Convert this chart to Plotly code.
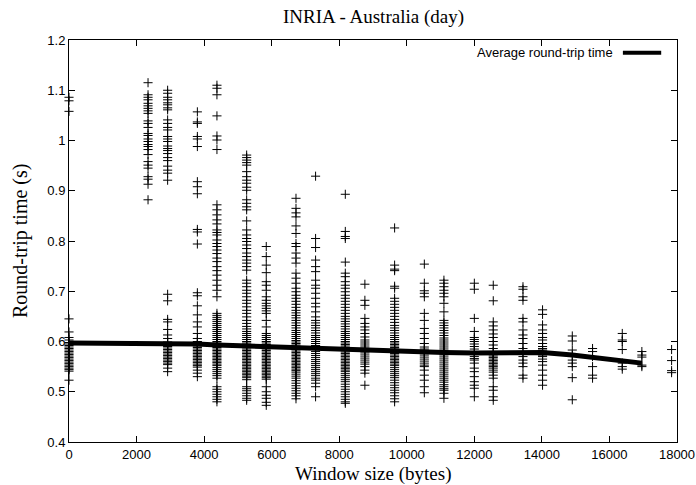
import plotly.graph_objects as go

# Window sizes (bytes) at which round-trip times were sampled
window_sizes = [0, 2340, 2920, 3800, 4380, 5260, 5840, 6720, 7300, 8180, 8760,
                9640, 10520, 11100, 12000, 12560, 13440, 14020, 14900, 15500,
                16380, 16960, 17840]

rtt_0 = [1.086, 1.079, 1.058, 0.645, 0.619, 0.608, 0.603, 0.598, 0.595, 0.592, 0.589,
         0.586, 0.583, 0.580, 0.577, 0.574, 0.571, 0.568, 0.565, 0.562, 0.559, 0.556,
         0.553, 0.550, 0.547, 0.544, 0.541, 0.523]
rtt_2340 = [1.115, 1.091, 1.086, 1.081, 1.074, 1.069, 1.064, 1.059, 1.054, 1.039, 1.034,
            1.026, 1.014, 1.010, 1.003, 0.998, 0.992, 0.988, 0.982, 0.972, 0.958, 0.951,
            0.945, 0.928, 0.923, 0.913, 0.882]
rtt_2920 = [1.100, 1.094, 1.086, 1.081, 1.075, 1.071, 1.065, 1.061, 1.041, 1.034, 1.026,
            1.021, 1.008, 1.003, 0.998, 0.989, 0.984, 0.980, 0.974, 0.966, 0.960, 0.949,
            0.941, 0.935, 0.921,
            0.694, 0.681, 0.644, 0.639, 0.624, 0.613, 0.606, 0.599, 0.596, 0.593, 0.590,
            0.587, 0.584, 0.581, 0.578, 0.575, 0.572, 0.569, 0.566, 0.563, 0.560, 0.557,
            0.554, 0.547, 0.540]
rtt_3800 = [1.057, 1.037, 1.034, 1.008, 1.003, 0.988, 0.918, 0.908, 0.894, 0.823, 0.818,
            0.794,
            0.697, 0.691, 0.671, 0.653, 0.639, 0.629, 0.616, 0.606, 0.600, 0.597, 0.594,
            0.591, 0.588, 0.585, 0.582, 0.579, 0.576, 0.573, 0.570, 0.567, 0.564, 0.561,
            0.558, 0.555, 0.552, 0.549, 0.543, 0.537, 0.530]
rtt_4380 = [1.110, 1.104, 1.091, 1.049, 1.009, 1.001, 0.982, 0.872, 0.862, 0.852, 0.842,
            0.834, 0.822, 0.817, 0.812, 0.802, 0.795, 0.789, 0.782, 0.775, 0.766, 0.759,
            0.749, 0.741, 0.732, 0.722, 0.712, 0.702, 0.689, 0.656, 0.652, 0.648, 0.644,
            0.640, 0.636, 0.632, 0.628, 0.624, 0.620, 0.616, 0.612, 0.608, 0.604, 0.600,
            0.597, 0.594, 0.591, 0.588, 0.585, 0.582, 0.579, 0.576, 0.573, 0.570, 0.567,
            0.564, 0.561, 0.558, 0.555, 0.552, 0.548, 0.544, 0.540, 0.536, 0.532, 0.527,
            0.510, 0.505, 0.500, 0.495, 0.490, 0.485, 0.480]
rtt_5260 = [0.971, 0.966, 0.961, 0.956, 0.951, 0.938, 0.928, 0.921, 0.915, 0.907, 0.901,
            0.882, 0.875, 0.868, 0.862, 0.840, 0.822, 0.812, 0.805, 0.799, 0.792, 0.785,
            0.776, 0.769, 0.762, 0.756, 0.749, 0.742, 0.722, 0.716, 0.709, 0.702, 0.696,
            0.689, 0.682, 0.676, 0.669, 0.662, 0.656, 0.649, 0.642, 0.636, 0.630, 0.625,
            0.620, 0.616, 0.612, 0.608, 0.604, 0.600, 0.597, 0.594, 0.591, 0.588, 0.585,
            0.582, 0.579, 0.576, 0.573, 0.570, 0.567, 0.564, 0.561, 0.558, 0.555, 0.552,
            0.549, 0.546, 0.543, 0.540, 0.537, 0.534, 0.531, 0.528, 0.524, 0.510, 0.506,
            0.502, 0.497, 0.492, 0.487, 0.483]
rtt_5840 = [0.789, 0.769, 0.752, 0.737, 0.719, 0.712, 0.702, 0.689, 0.682, 0.676, 0.671,
            0.666, 0.661, 0.656, 0.642, 0.629, 0.616, 0.612, 0.608, 0.604, 0.600, 0.597,
            0.594, 0.591, 0.588, 0.585, 0.582, 0.579, 0.576, 0.573, 0.570, 0.567, 0.564,
            0.561, 0.558, 0.555, 0.552, 0.549, 0.546, 0.543, 0.540, 0.537, 0.534, 0.531,
            0.528, 0.525, 0.510, 0.500, 0.493, 0.487, 0.479, 0.473]
rtt_6720 = [0.885, 0.865, 0.856, 0.848, 0.830, 0.815, 0.795, 0.789, 0.776, 0.766, 0.756,
            0.736, 0.726, 0.716, 0.706, 0.699, 0.692, 0.686, 0.680, 0.674, 0.668, 0.662,
            0.657, 0.652, 0.647, 0.642, 0.637, 0.632, 0.627, 0.622, 0.618, 0.614, 0.610,
            0.606, 0.602, 0.599, 0.596, 0.593, 0.590, 0.587, 0.584, 0.581, 0.578, 0.575,
            0.572, 0.569, 0.566, 0.563, 0.560, 0.557, 0.554, 0.551, 0.548, 0.545, 0.542,
            0.539, 0.535, 0.531, 0.527, 0.522, 0.517, 0.512, 0.507, 0.502, 0.497, 0.492,
            0.486]
rtt_7300 = [0.929, 0.805, 0.787, 0.762, 0.749, 0.739, 0.722, 0.712, 0.706, 0.696, 0.686,
            0.676, 0.669, 0.659, 0.649, 0.642, 0.637, 0.632, 0.627, 0.622, 0.617, 0.612,
            0.608, 0.604, 0.600, 0.596, 0.592, 0.588, 0.584, 0.580, 0.576, 0.572, 0.568,
            0.564, 0.560, 0.556, 0.552, 0.548, 0.544, 0.540, 0.536, 0.532, 0.527, 0.523,
            0.517, 0.510, 0.490]
rtt_8180 = [0.893, 0.819, 0.809, 0.805, 0.758, 0.736, 0.729, 0.719, 0.712, 0.706, 0.699,
            0.692, 0.686, 0.680, 0.674, 0.668, 0.662, 0.656, 0.650, 0.645, 0.640, 0.635,
            0.630, 0.625, 0.620, 0.616, 0.612, 0.608, 0.604, 0.600, 0.597, 0.594, 0.591,
            0.588, 0.585, 0.582, 0.579, 0.576, 0.573, 0.570, 0.567, 0.564, 0.561, 0.558,
            0.555, 0.552, 0.549, 0.546, 0.543, 0.540, 0.536, 0.532, 0.528, 0.524, 0.520,
            0.515, 0.510, 0.505, 0.500, 0.495, 0.490, 0.485, 0.480, 0.477]
rtt_8760 = [0.714, 0.682, 0.672, 0.646, 0.636, 0.629, 0.623, 0.616, 0.609, 0.603, 0.599,
            0.595, 0.591, 0.587, 0.583, 0.579, 0.575, 0.571, 0.567, 0.563, 0.559, 0.555,
            0.550, 0.543, 0.537, 0.513]
rtt_9640 = [0.826, 0.752, 0.744, 0.741, 0.710, 0.706, 0.686, 0.680, 0.674, 0.668, 0.662,
            0.656, 0.650, 0.644, 0.638, 0.632, 0.627, 0.622, 0.617, 0.612, 0.608, 0.604,
            0.600, 0.597, 0.594, 0.591, 0.588, 0.585, 0.582, 0.579, 0.576, 0.573, 0.570,
            0.567, 0.564, 0.561, 0.558, 0.555, 0.552, 0.548, 0.544, 0.540, 0.536, 0.532,
            0.528, 0.523, 0.518, 0.513, 0.508, 0.503, 0.498, 0.492, 0.486, 0.480]
rtt_10520 = [0.754, 0.716, 0.701, 0.696, 0.689, 0.656, 0.642, 0.626, 0.616, 0.606, 0.596,
             0.589, 0.585, 0.581, 0.577, 0.573, 0.569, 0.565, 0.561, 0.557, 0.553, 0.550,
             0.543, 0.533, 0.523, 0.510, 0.498]
rtt_11100 = [0.722, 0.716, 0.709, 0.702, 0.696, 0.689, 0.676, 0.659, 0.642, 0.637, 0.632,
             0.627, 0.622, 0.617, 0.612, 0.607, 0.603, 0.599, 0.595, 0.591, 0.587, 0.583,
             0.579, 0.575, 0.571, 0.567, 0.563, 0.559, 0.555, 0.551, 0.547, 0.543, 0.539,
             0.535, 0.531, 0.527, 0.523, 0.519, 0.514, 0.510, 0.506, 0.503, 0.497, 0.487]
rtt_12000 = [0.716, 0.704, 0.646, 0.620, 0.608, 0.604, 0.600, 0.595, 0.590, 0.585, 0.580,
             0.575, 0.570, 0.566, 0.563, 0.557, 0.547, 0.540, 0.530, 0.520, 0.513, 0.507,
             0.490]
rtt_12560 = [0.712, 0.681, 0.639, 0.631, 0.623, 0.615, 0.608, 0.600, 0.593, 0.586, 0.580,
             0.577, 0.574, 0.571, 0.568, 0.565, 0.562, 0.559, 0.556, 0.553, 0.550, 0.547,
             0.543, 0.539, 0.533, 0.527, 0.510, 0.503, 0.490, 0.483]
rtt_13440 = [0.709, 0.704, 0.689, 0.682, 0.646, 0.639, 0.623, 0.613, 0.606, 0.596, 0.586,
             0.580, 0.570, 0.563, 0.557, 0.550, 0.533, 0.527]
rtt_14020 = [0.663, 0.654, 0.633, 0.623, 0.616, 0.608, 0.603, 0.596, 0.590, 0.586, 0.583,
             0.579, 0.576, 0.573, 0.570, 0.565, 0.560, 0.553, 0.543, 0.533, 0.523, 0.513]
rtt_14900 = [0.611, 0.601, 0.583, 0.573, 0.563, 0.557, 0.550, 0.528, 0.484]
rtt_15500 = [0.586, 0.580, 0.570, 0.550, 0.533, 0.527]
rtt_16380 = [0.616, 0.603, 0.600, 0.584, 0.557, 0.550, 0.545]
rtt_16960 = [0.580, 0.573, 0.569, 0.553, 0.550]
rtt_17840 = [0.584, 0.562, 0.542, 0.538]

# Average round-trip time per window size
avg_window = [0, 2340, 2920, 3800, 4380, 5260, 5840, 6720, 7300, 8180, 8760, 9640,
              10520, 11100, 12000, 12560, 13440, 14020, 14900, 15500, 16380, 16960]
avg_rtt = [0.597, 0.597, 0.597, 0.595, 0.593, 0.591, 0.588, 0.586, 0.585, 0.583, 0.582,
           0.581, 0.579, 0.578, 0.577, 0.577, 0.578, 0.578, 0.573, 0.569, 0.562, 0.557]

rtt_columns = [rtt_0, rtt_2340, rtt_2920, rtt_3800, rtt_4380, rtt_5260, rtt_5840,
               rtt_6720, rtt_7300, rtt_8180, rtt_8760, rtt_9640, rtt_10520, rtt_11100,
               rtt_12000, rtt_12560, rtt_13440, rtt_14020, rtt_14900, rtt_15500,
               rtt_16380, rtt_16960, rtt_17840]

xs, ys = [], []
for w, col in zip(window_sizes, rtt_columns):
    xs.extend([w] * len(col))
    ys.extend(col)

fig = go.Figure()
fig.add_trace(go.Scatter(
    x=xs, y=ys, mode="markers", showlegend=False, cliponaxis=False,
    marker=dict(symbol="cross-thin", size=6.5, color="black",
                line=dict(width=1, color="black")),
))
fig.add_trace(go.Scatter(
    x=avg_window, y=avg_rtt, mode="lines", showlegend=False,
    line=dict(color="black", width=5),
))

sans = "Liberation Sans, Arial, sans-serif"
serif = "Liberation Serif, Times New Roman, serif"

axis_common = dict(
    showline=True, linecolor="black", linewidth=1, mirror="ticks",
    ticks="inside", ticklen=6, tickwidth=1, tickcolor="black",
    showgrid=False, zeroline=False, automargin=False,
    tickfont=dict(family=sans, size=13, color="black"),
)

fig.update_layout(
    autosize=False,
    width=696, height=485,
    margin=dict(l=69, r=19, t=40, b=43),
    paper_bgcolor="white", plot_bgcolor="white",
    xaxis=dict(range=[0, 18000], tick0=0, dtick=2000, tickformat="d", **axis_common),
    yaxis=dict(range=[0.4, 1.2], tick0=0.4, dtick=0.1, **axis_common),
    annotations=[
        dict(text="INRIA - Australia (day)", xref="paper", yref="paper",
             x=0.5, y=1, yshift=23, xanchor="center", yanchor="middle",
             showarrow=False, font=dict(family=serif, size=19, color="black")),
        dict(text="Window size (bytes)", xref="paper", yref="paper",
             x=0.5, y=0, yshift=-32, xanchor="center", yanchor="middle",
             showarrow=False, font=dict(family=serif, size=19, color="black")),
        dict(text="Round-trip time (s)", xref="paper", yref="paper",
             x=0, y=0.5, xshift=-49, xanchor="center", yanchor="middle", textangle=-90,
             showarrow=False, font=dict(family=serif, size=20, color="black")),
        dict(text="Average round-trip time", xref="paper", yref="paper",
             x=0.898, y=0.968, xanchor="right", yanchor="middle",
             showarrow=False, font=dict(family=sans, size=13, color="black")),
    ],
    shapes=[
        dict(type="line", xref="paper", yref="paper", x0=0.911, x1=0.974,
             y0=0.968, y1=0.968, line=dict(color="black", width=4)),
    ],
)

fig.write_html(
    "out.html",
    config={"displayModeBar": False, "responsive": False},
    post_script="document.body.style.margin='0';document.body.style.overflow='hidden';",
)
